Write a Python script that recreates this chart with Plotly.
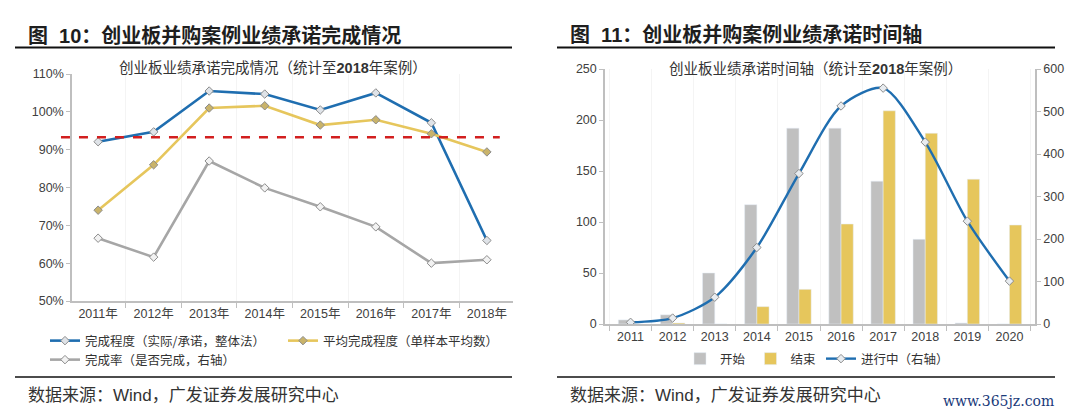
import plotly.graph_objects as go

# ---------------- data ----------------
years_left = ["2011年", "2012年", "2013年", "2014年", "2015年", "2016年", "2017年", "2018年"]
completion_overall = [92.1, 94.7, 105.5, 104.7, 100.5, 105.0, 97.1, 66.0]   # 完成程度（实际/承诺，整体法）
completion_average = [74.0, 86.0, 101.0, 101.6, 96.5, 97.9, 94.2, 89.4]    # 平均完成程度（单样本平均数）
completion_rate = [66.6, 61.6, 87.0, 79.9, 74.9, 69.6, 60.0, 60.9]         # 完成率（是否完成，右轴）
threshold = 93.3

years_right = ["2011", "2012", "2013", "2014", "2015", "2016", "2017", "2018", "2019", "2020"]
start_counts = [4, 9, 50, 117, 192, 192, 140, 83, 1, 0]        # 开始
end_counts = [0, 1, 0, 17, 34, 98, 209, 187, 142, 97]         # 结束
ongoing_counts = [4, 14, 63, 180, 354, 513, 555, 428, 242, 101]  # 进行中（右轴）

# ---------------- style ----------------
W, H = 1080, 417
CJK = "Noto Sans CJK SC"
NUM = "Liberation Sans, Noto Sans CJK SC"
BLUE = "#1f6eb0"
YELLOW = "#e6c65c"
GRAY_LINE = "#a6a6a6"
GRAY_BAR = "#c0c0c0"
AXIS = "#bfbfbf"
TXT = "#404040"

def px_x(p):
    return p / W

def px_y(p):
    return 1 - p / H

fig = go.Figure()

marker_common = dict(symbol="diamond", size=6.5, line=dict(color="#8c8c8c", width=1))

fig.add_trace(go.Scatter(
    x=years_left, y=completion_overall, name="完成程度（实际/承诺，整体法）",
    mode="lines+markers", line=dict(color=BLUE, width=2.6),
    marker=dict(color="#dfe3e8", **marker_common),
    xaxis="x", yaxis="y", legend="legend"))
fig.add_trace(go.Scatter(
    x=years_left, y=completion_average, name="平均完成程度（单样本平均数）",
    mode="lines+markers", line=dict(color=YELLOW, width=2.6),
    marker=dict(color="#c9b36a", **marker_common),
    xaxis="x", yaxis="y", legend="legend"))
fig.add_trace(go.Scatter(
    x=years_left, y=completion_rate, name="完成率（是否完成，右轴）",
    mode="lines+markers", line=dict(color=GRAY_LINE, width=2.6),
    marker=dict(color="#f2f2f2", **marker_common),
    xaxis="x", yaxis="y", legend="legend2"))

fig.add_trace(go.Bar(
    x=years_right, y=start_counts, name="开始", marker_color=GRAY_BAR,
    xaxis="x2", yaxis="y2", legend="legend3"))
fig.add_trace(go.Bar(
    x=years_right, y=end_counts, name="结束", marker_color=YELLOW,
    xaxis="x2", yaxis="y2", legend="legend3"))
fig.add_trace(go.Scatter(
    x=years_right, y=ongoing_counts, name="进行中（右轴）",
    mode="lines+markers", line=dict(color=BLUE, width=2.4, shape="spline", smoothing=0.8),
    marker=dict(color="#e8ecf0", **marker_common),
    xaxis="x2", yaxis="y3", legend="legend3"))

tickfont = dict(family=NUM, size=12.5, color=TXT)

xcommon = dict(type="category", showline=True, linecolor=AXIS, linewidth=1.5,
               ticks="outside", tickson="boundaries", ticklen=5, tickcolor=AXIS,
               showgrid=True, gridcolor="#f4f4f4", gridwidth=1, tickfont=tickfont,
               fixedrange=True, automargin=False)
ycommon = dict(showline=True, linecolor=AXIS, linewidth=1.5, ticks="outside",
               ticklen=4, tickcolor=AXIS, showgrid=False, zeroline=False,
               tickfont=tickfont, fixedrange=True, automargin=False)

legend_font = dict(family=CJK, size=12.5, color="#333333")

fig.update_layout(
    width=W, height=H,
    margin=dict(l=0, r=0, t=0, b=0, autoexpand=False),
    paper_bgcolor="white", plot_bgcolor="white",
    barmode="group", bargap=0.42, bargroupgap=0,
    xaxis=dict(domain=[px_x(72), px_x(513)], anchor="y", **xcommon),
    yaxis=dict(domain=[px_y(301), px_y(74)], anchor="x", range=[50, 110], dtick=10,
               ticksuffix="%", **ycommon),
    xaxis2=dict(domain=[px_x(605), px_x(1035)], anchor="y2", **xcommon),
    yaxis2=dict(domain=[px_y(324), px_y(69)], anchor="x2", range=[0, 250], dtick=50,
                **ycommon),
    yaxis3=dict(overlaying="y2", anchor="x2", side="right", range=[0, 600], dtick=100,
                **ycommon),
    legend=dict(orientation="h", x=px_x(45), y=px_y(341), xanchor="left", yanchor="middle",
                font=legend_font, entrywidth=193, entrywidthmode="pixels",
                bgcolor="rgba(0,0,0,0)"),
    legend2=dict(orientation="h", x=px_x(45), y=px_y(360), xanchor="left", yanchor="middle",
                 font=legend_font, bgcolor="rgba(0,0,0,0)"),
    legend3=dict(orientation="h", x=px_x(680), y=px_y(359), xanchor="left", yanchor="middle",
                 font=legend_font, bgcolor="rgba(0,0,0,0)"),
    showlegend=True,
)

# reference line (threshold) on left chart
fig.add_shape(type="line", xref="x domain", yref="y", x0=-0.025, x1=0.97,
              y0=threshold, y1=threshold,
              line=dict(color="#d21f1f", width=2.5, dash="dash"))

# header / footer rules
for x0, x1 in [(15, 512), (557, 1055)]:
    fig.add_shape(type="line", xref="paper", yref="paper", x0=px_x(x0), x1=px_x(x1),
                  y0=px_y(47.5), y1=px_y(47.5), line=dict(color="#111111", width=2))
    fig.add_shape(type="line", xref="paper", yref="paper", x0=px_x(x0), x1=px_x(x1),
                  y0=px_y(377), y1=px_y(377), line=dict(color="#111111", width=1.5))

TITLE_FONT = dict(family="Liberation Sans, " + CJK, size=20, color="#1e1e1e")
SUB_FONT = dict(family="Liberation Sans, " + CJK, size=14.5, color="#333333")
FOOT_FONT = dict(family="Liberation Sans, " + CJK, size=17, color="#333333")

annotations = [
    dict(text="<b>图  10：创业板并购案例业绩承诺完成情况</b>", x=px_x(26), y=px_y(35),
         xanchor="left", yanchor="middle", font=TITLE_FONT),
    dict(text="<b>图  11：创业板并购案例业绩承诺时间轴</b>", x=px_x(568), y=px_y(35),
         xanchor="left", yanchor="middle", font=TITLE_FONT),
    dict(text="创业板业绩承诺完成情况（统计至<b>2018</b>年案例）", x=px_x(273), y=px_y(67),
         xanchor="center", yanchor="middle", font=SUB_FONT),
    dict(text="创业板业绩承诺时间轴（统计至<b>2018</b>年案例）", x=px_x(815), y=px_y(68),
         xanchor="center", yanchor="middle", font=SUB_FONT),
    dict(text="数据来源：Wind，广发证券发展研究中心", x=px_x(26), y=px_y(395),
         xanchor="left", yanchor="middle", font=FOOT_FONT),
    dict(text="数据来源：Wind，广发证券发展研究中心", x=px_x(568), y=px_y(395),
         xanchor="left", yanchor="middle", font=FOOT_FONT),
    dict(text="www.365jz.com", x=px_x(1056), y=px_y(401),
         xanchor="right", yanchor="middle", font=dict(family="DejaVu Serif", size=14, color="#1a3a7a")),
]
for a in annotations:
    a.update(xref="paper", yref="paper", showarrow=False)
fig.update_layout(annotations=annotations)

fig.write_html("out.html", config={"displayModeBar": False},
               post_script="document.body.style.margin='0';document.body.style.overflow='hidden';")
